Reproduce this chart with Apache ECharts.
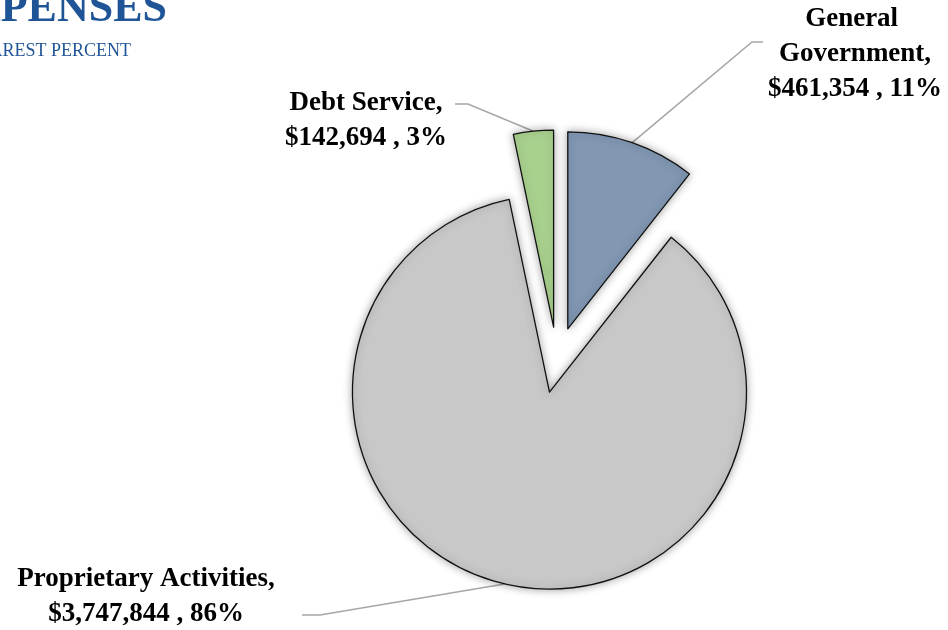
<!DOCTYPE html>
<html><head><meta charset="utf-8">
<script src="https://cdn.jsdelivr.net/npm/echarts@6/dist/echarts.min.js"></script>
<style>html,body{margin:0;padding:0;background:#fff}#c{width:948px;height:630px}</style>
</head><body><div id="c"></div>
<script>
const categories = ['General Government', 'Proprietary Activities', 'Debt Service'];
const amounts = [461354, 3747844, 142694];
const colors = ['#8197B2', '#C8C8C8', '#A9D18E'];
const titleText = 'EXPENSES';
const subtitleText = 'TO NEAREST PERCENT';

// layout: pie centre, radius, explode distance
const baseCenter = [557, 360];
const pieRadius = 197;
const explode = 33;
// label block centres and label-line bend/end points
const labelSpots = [
  {x: 855, y: 54, line: [[752, 42], [763, 42]]},
  {x: 146, y: 597, line: [[320, 615], [302, 615]]},
  {x: 366, y: 121, line: [[468, 104], [455, 104]]}
];

function fmt(n) { return '$' + n.toString().replace(/\B(?=(\d{3})+(?!\d))/g, ','); }

const total = amounts.reduce((a, b) => a + b, 0);
let cum = 0;
const series = amounts.map((v, i) => {
  const mid = (cum + v / 2) / total * 2 * Math.PI;
  cum += v;
  const center = [baseCenter[0] + explode * Math.sin(mid), baseCenter[1] - explode * Math.cos(mid)];
  return {
    type: 'pie',
    center: center,
    radius: pieRadius,
    startAngle: 90,
    clockwise: true,
    silent: true,
    avoidLabelOverlap: false,
    emphasis: {disabled: true},
    label: {
      show: true, position: 'outside',
      fontFamily: 'Liberation Serif', fontWeight: 'bold', fontSize: 27, lineHeight: 35, color: '#000',
      formatter: p => p.name + ',\n' + fmt(p.value) + ' , ' + Math.round(p.percent) + '%'
    },
    labelLine: {show: true, lineStyle: {color: '#A6A6A6', width: 1.5}},
    labelLayout: function (params) {
      if (params.dataIndex !== i) return;
      const s = labelSpots[i];
      const pts = params.labelLinePoints;
      return {x: s.x, y: s.y, align: 'center', verticalAlign: 'middle',
        labelLinePoints: [pts[0], s.line[0], s.line[1]]};
    },
    data: categories.map((c, j) => j === i ? {
      name: c, value: amounts[j],
      itemStyle: {color: colors[j], borderColor: '#111', borderWidth: 1.3,
        shadowBlur: 9, shadowColor: 'rgba(0,0,0,0.35)'},
      label: j === 0 ? {width: 200, overflow: 'break'} : {}
    } : {
      name: c, value: amounts[j],
      itemStyle: {color: 'rgba(0,0,0,0)', borderWidth: 0, shadowBlur: 0, shadowColor: 'rgba(0,0,0,0)'},
      label: {show: false}, labelLine: {show: false}
    })
  };
});

const chart = echarts.init(document.getElementById('c'), null, {renderer: 'canvas'});
chart.setOption({
  animation: false,
  backgroundColor: '#fff',
  graphic: [
    {type: 'text', x: 167, y: -12, style: {text: titleText, align: 'right', verticalAlign: 'top',
      font: 'bold 44px "Liberation Serif"', fill: '#1F5597'}},
    {type: 'text', x: 131, y: 42, style: {text: subtitleText, align: 'right', verticalAlign: 'top',
      font: '18px "Liberation Serif"', fill: '#1F5597'}}
  ],
  series: series
});
</script></body></html>
